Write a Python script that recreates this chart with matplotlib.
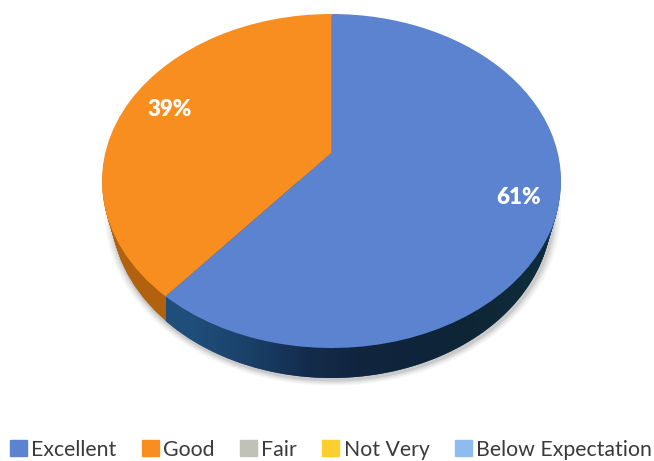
import numpy as np
import matplotlib
matplotlib.use("Agg")
import matplotlib.pyplot as plt
from matplotlib.patches import Ellipse, Patch, PathPatch
from matplotlib.path import Path
from matplotlib.transforms import Affine2D, Transform

plt.rcParams['font.family'] = ['Lato', 'DejaVu Sans']

categories = ["Excellent", "Good", "Fair", "Not Very", "Below Expectation"]
values = [61, 39, 0, 0, 0]
top_colors = ["#5b83cf", "#f88e1f", "#c0c2b8", "#fdcf2e", "#8fbcee"]
side_colors = ["#1d4a78", "#b2620f", "#8a8a80", "#b09020", "#6080a8"]


class Tilt(Transform):
    # projective tilt so the pie apex sits above the centre of the ellipse
    input_dims = 2
    output_dims = 2
    k = 0.17

    def transform_non_affine(self, xy):
        xy = np.asarray(xy, dtype=float)
        w = 1 + self.k * xy[:, 1]
        x = xy[:, 0] * np.sqrt(1 - self.k ** 2) / w
        y = (xy[:, 1] + self.k) / w
        return np.column_stack([x, y])


W, H = 654, 461
cx, cy, rx, ry = 331.5, 181, 229.5, 167
depth = 30 / ry
narrow = 0.04  # the underside is a little narrower than the top face

fig = plt.figure(figsize=(W / 100, H / 100), dpi=100)
ax = fig.add_axes([0, 0, 1, 1])
tilt = Tilt()


def draw_pie(colors, shift):
    wedges, _ = ax.pie(values, colors=colors, startangle=90, counterclock=False)
    scale = 1 - narrow * shift / depth
    for w in wedges:
        w.set_transform(tilt + Affine2D().scale(scale, 1).translate(0, -shift) + ax.transData)
    return wedges


# soft shadow below the disc
for grow, a in zip([0.034, 0.025, 0.016, 0.008], [0.05, 0.07, 0.09, 0.13]):
    ax.add_patch(Ellipse((0.006, -depth - 0.012), 2 * (1 - narrow) + grow * 2, 2 + grow * 2,
                         color="#555555", alpha=a, lw=0, zorder=0))

# side wall
for d in np.linspace(depth, 0, 31)[:-1]:
    draw_pie(side_colors, d)

# shading along the blue wall
t = np.linspace(np.pi, 2 * np.pi, 200)
outline = np.column_stack([np.cos(t) * (1 - narrow), np.sin(t) - depth])
outline = np.vstack([outline, [[1, 0], [-1, 0], [-1 + narrow, -depth]]])
clip = PathPatch(Path(outline), transform=ax.transData, fc="none", lw=0)
ax.add_patch(clip)
shade = np.array([[[31, 78, 122], [26, 64, 104], [20, 44, 76], [17, 36, 62],
                   [15, 36, 58], [14, 38, 54], [14, 44, 58]]], dtype=np.uint8)
img = ax.imshow(shade, extent=(-0.72, 1.0, -1.3, 0.1), aspect="auto",
                interpolation="bilinear", zorder=1.5)
img.set_clip_path(clip)

# top face
wedges = draw_pie(top_colors, 0)
for w in wedges:
    w.set_zorder(3)

ax.set_aspect("auto")
ax.set_xlim(-cx / rx, (W - cx) / rx)
ax.set_ylim((cy - H) / ry, cy / ry)
ax.axis("off")

fig.text(170 / W, 1 - 109 / H, "39%", color="white", fontsize=16, fontweight="heavy",
         ha="center", va="center")
fig.text(519 / W, 1 - 198 / H, "61%", color="white", fontsize=16, fontweight="heavy",
         ha="center", va="center")

handles = [Patch(color=c, label=n) for c, n in zip(top_colors, categories)]
fig.legend(handles=handles, loc="lower center", bbox_to_anchor=(0.506, -0.034), ncol=5,
           frameon=False, fontsize=15.3, labelcolor="#3a3a3a", handlelength=0.8,
           handleheight=0.8, handletextpad=0.2, columnspacing=1.2, borderpad=0.3)

fig.savefig("out.png", dpi=100)
